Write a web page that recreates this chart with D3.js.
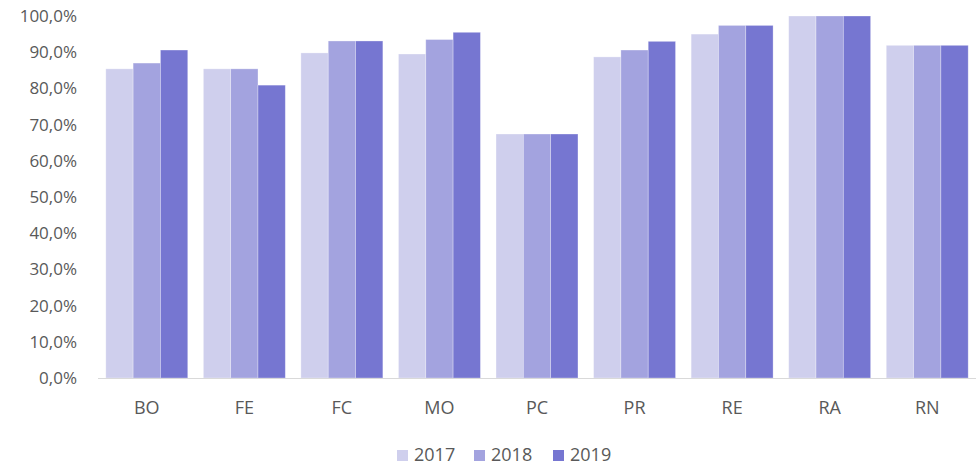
<!DOCTYPE html>
<html>
<head>
<meta charset="utf-8">
<script src="https://cdn.jsdelivr.net/npm/d3@7"></script>
<style>
  body { margin: 0; background: #fff; }
  svg text { font-family: "Open Sans", "Liberation Sans", sans-serif; fill: #595959; }
</style>
</head>
<body>
<div id="chart"></div>
<script>
// data
var categories = ["BO", "FE", "FC", "MO", "PC", "PR", "RE", "RA", "RN"];
var years = ["2017", "2018", "2019"];
var values2017 = [0.854, 0.854, 0.898, 0.895, 0.674, 0.887, 0.950, 1.000, 0.919];
var values2018 = [0.870, 0.854, 0.931, 0.935, 0.674, 0.906, 0.974, 1.000, 0.919];
var values2019 = [0.906, 0.809, 0.931, 0.955, 0.674, 0.930, 0.974, 1.000, 0.919];
var yTicks = [0, 0.1, 0.2, 0.3, 0.4, 0.5, 0.6, 0.7, 0.8, 0.9, 1.0];
var colors = ["#cfcfed", "#a3a3df", "#7676d1"];

var series = [values2017, values2018, values2019];

var width = 976, height = 467;
var margin = {top: 16, right: 0, bottom: 89, left: 98};

var svg = d3.select("#chart").append("svg")
    .attr("width", width)
    .attr("height", height);

var x = d3.scaleBand()
    .domain(categories)
    .range([margin.left, width - margin.right])
    .paddingInner(0.16)
    .paddingOuter(0.08);

var xInner = d3.scaleBand()
    .domain(years)
    .range([0, x.bandwidth()]);

var y = d3.scaleLinear()
    .domain([0, 1])
    .range([height - margin.bottom, margin.top]);

var locale = d3.formatLocale({decimal: ",", thousands: ".", grouping: [3], currency: ["", "€"]});
var pct = locale.format(".1%");

// y labels (no axis line, no gridlines)
svg.append("g")
  .selectAll("text")
  .data(yTicks)
  .enter().append("text")
    .attr("x", 77)
    .attr("y", function(d) { return y(d); })
    .attr("dy", "0.35em")
    .attr("text-anchor", "end")
    .style("font-size", "17px")
    .text(function(d) { return pct(d); });

// bars
var groups = svg.append("g")
  .selectAll("g")
  .data(categories)
  .enter().append("g")
    .attr("transform", function(d) { return "translate(" + x(d) + ",0)"; });

groups.selectAll("rect")
  .data(function(d, i) { return years.map(function(yr, j) { return {year: yr, value: series[j][i], k: j}; }); })
  .enter().append("rect")
    .attr("x", function(d) { return xInner(d.year); })
    .attr("y", function(d) { return y(d.value); })
    .attr("width", xInner.bandwidth())
    .attr("height", function(d) { return y(0) - y(d.value); })
    .attr("fill", function(d) { return colors[d.k]; })
    .attr("stroke", "#ffffff")
    .attr("stroke-opacity", 0.4)
    .attr("stroke-width", 0.75);

// x axis baseline and labels
svg.append("line")
    .attr("x1", margin.left)
    .attr("x2", width - margin.right)
    .attr("y1", y(0) + 0.5)
    .attr("y2", y(0) + 0.5)
    .attr("stroke", "#d9d9d9")
    .attr("stroke-width", 1);

svg.append("g")
  .selectAll("text")
  .data(categories)
  .enter().append("text")
    .attr("x", function(d) { return x(d) + x.bandwidth() / 2; })
    .attr("y", 408)
    .attr("dy", "0.35em")
    .attr("text-anchor", "middle")
    .style("font-size", "18px")
    .text(function(d) { return d; });

// legend
var legendX = [397, 474, 553];
var legend = svg.append("g")
  .selectAll("g")
  .data(years)
  .enter().append("g")
    .attr("transform", function(d, i) { return "translate(" + legendX[i] + ",455)"; });

legend.append("rect")
    .attr("x", 0)
    .attr("y", -5)
    .attr("width", 11)
    .attr("height", 11)
    .attr("fill", function(d, i) { return colors[i]; });

legend.append("text")
    .attr("x", 17)
    .attr("y", 0)
    .attr("dy", "0.35em")
    .style("font-size", "18px")
    .text(function(d) { return d; });
</script>
</body>
</html>
